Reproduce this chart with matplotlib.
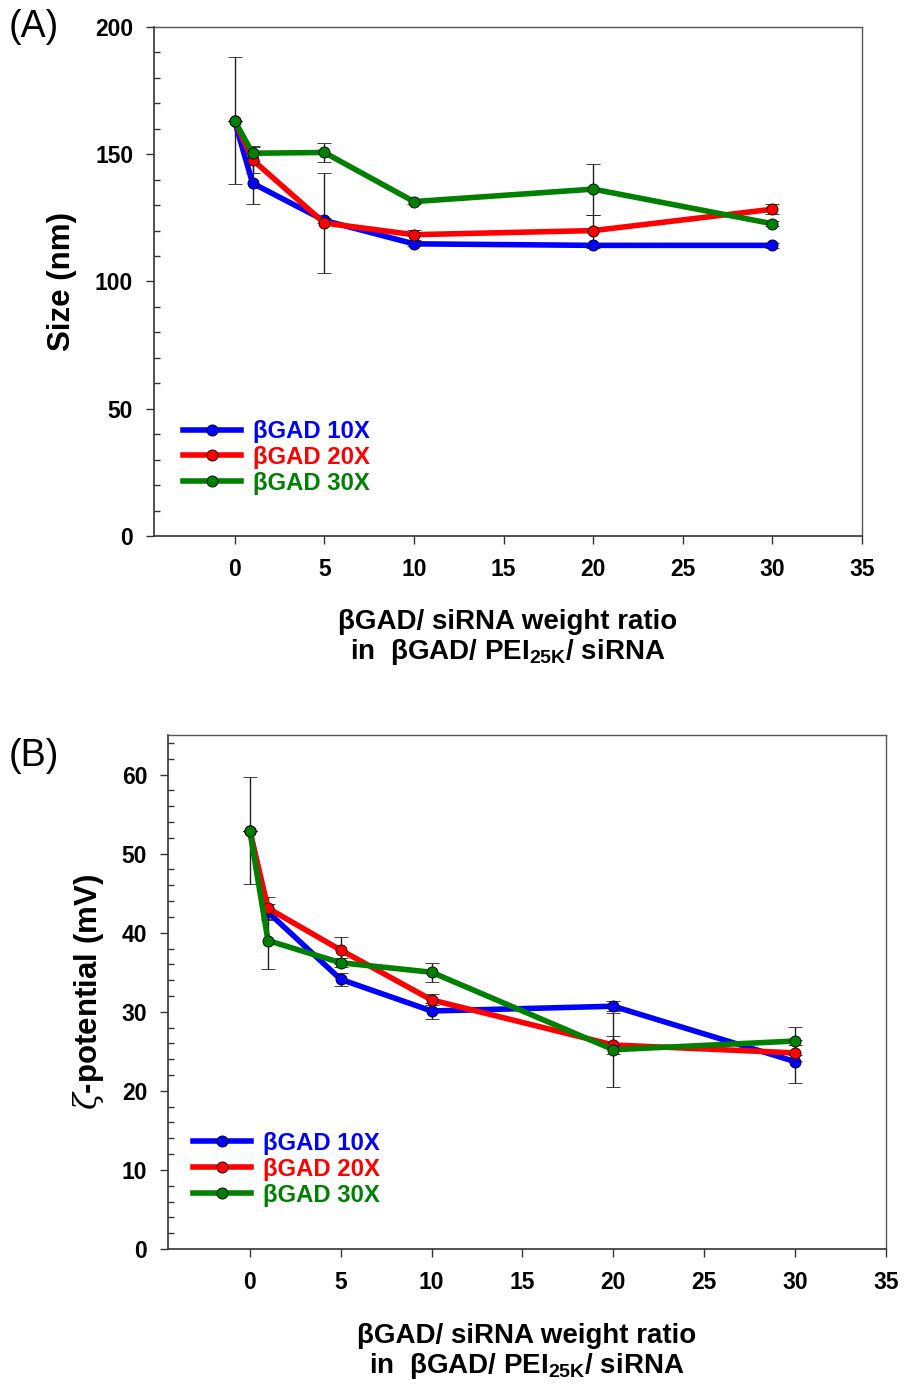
import matplotlib
matplotlib.use("Agg")
import matplotlib.pyplot as plt
from matplotlib.ticker import MultipleLocator

plt.rcParams['font.family'] = ['Liberation Sans', 'DejaVu Sans']
plt.rcParams['mathtext.fontset'] = 'custom'
plt.rcParams['mathtext.rm'] = 'Liberation Sans:bold'
plt.rcParams['mathtext.bf'] = 'Liberation Sans:bold'
plt.rcParams['mathtext.it'] = 'DejaVu Serif:italic'
plt.rcParams['mathtext.default'] = 'bf'

# ---- data ----
ratio = [0, 1, 5, 10, 20, 30]
series_labels = ["βGAD 10X", "βGAD 20X", "βGAD 30X"]
series_colors = ["#0000FF", "#FF0000", "#008000"]

size_10x = [163.0, 138.6, 124.0, 114.8, 114.2, 114.2]
size_10x_err = [0, 8.0, 1.0, 1.0, 1.0, 1.0]
size_20x = [163.0, 147.8, 123.0, 118.4, 120.0, 128.4]
size_20x_err = [0, 5.0, 19.5, 2.0, 6.0, 2.0]
size_30x = [163.2, 150.4, 150.7, 131.4, 136.3, 122.7]
size_30x_err = [25.0, 3.0, 3.8, 1.0, 10.0, 1.0]

zeta_10x = [52.9, 42.6, 34.1, 30.1, 30.7, 23.7]
zeta_10x_err = [0, 1.0, 0.8, 1.0, 0.6, 2.7]
zeta_20x = [52.9, 43.1, 37.8, 31.5, 25.8, 24.8]
zeta_20x_err = [0, 1.4, 1.7, 0.7, 1.1, 1.0]
zeta_30x = [52.9, 39.0, 36.2, 35.0, 25.2, 26.3]
zeta_30x_err = [6.8, 3.6, 0.6, 1.2, 4.7, 1.8]

xticks = [0, 5, 10, 15, 20, 25, 30, 35]
xlabel_text = "βGAD/ siRNA weight ratio\nin  βGAD/ PEI$_{25K}$/ siRNA"

W, H = 905, 1391
fig = plt.figure(figsize=(W / 100, H / 100), dpi=100)


def frac(l, r, t, b):
    return [l / W, 1 - b / H, (r - l) / W, (b - t) / H]


def draw_panel(ax, ys, errs, ylim, ymajor, yminor, ylabel, ylabel_x,
               xlabel_y, leg_anchor):
    for y, e, c, lab in zip(ys, errs, series_colors, series_labels):
        ax.errorbar(ratio, y, yerr=e, color=c, lw=4.0, marker='o', ms=8.0,
                    mfc=c, mec='black', mew=0.6, ecolor='#222222',
                    elinewidth=1.0, capsize=5, capthick=1.0, label=lab)
    ax.set_xlim(-4.5, 35)
    ax.set_ylim(*ylim)
    ax.set_xticks(xticks)
    ax.yaxis.set_major_locator(MultipleLocator(ymajor))
    ax.yaxis.set_minor_locator(MultipleLocator(yminor))
    ax.tick_params(axis='both', which='major', direction='out', length=5.5,
                   width=1, labelsize=16.5, color='#333333')
    ax.tick_params(axis='x', which='major', pad=10)
    ax.tick_params(axis='y', which='major', pad=9.5)
    ax.tick_params(axis='y', which='minor', direction='in', length=4.5,
                   width=1, color='#333333')
    for lab in ax.get_xticklabels() + ax.get_yticklabels():
        lab.set_fontweight('bold')
    for s in ['left', 'bottom']:
        ax.spines[s].set_color('#333333')
        ax.spines[s].set_linewidth(1.2)
    for s in ['top', 'right']:
        ax.spines[s].set_color('#555555')
        ax.spines[s].set_linewidth(1.0)
    ax.text(ylabel_x, 0.5, ylabel, transform=ax.transAxes, rotation=90,
            ha='center', va='center', fontsize=22.5, fontweight='bold')
    ax.text(0.5, xlabel_y, xlabel_text, transform=ax.transAxes, ha='center',
            va='center', fontsize=20, fontweight='bold', linespacing=1.12,
            multialignment='center')
    handles, labels = ax.get_legend_handles_labels()
    handles = [h[0] for h in handles]
    ax.legend(handles, labels, loc='upper left', bbox_to_anchor=leg_anchor,
              frameon=False, handlelength=2.43, handletextpad=0.49,
              labelspacing=0.12, borderpad=0, borderaxespad=0, numpoints=1,
              labelcolor='linecolor', prop={'weight': 'bold', 'size': 17.2})


# panel A: axes box 154..862 x, 27..536 y (pixels)
axA = fig.add_axes(frac(154, 862, 27, 536))
draw_panel(axA, [size_10x, size_20x, size_30x],
           [size_10x_err, size_20x_err, size_30x_err],
           (0, 200), 50, 10, "Size (nm)", (61.7 - 154) / 708,
           -(638 - 536) / 509, (0.0414, 0.228))

# panel B: axes box 168..886 x, 735..1249 y (pixels)
axB = fig.add_axes(frac(168, 886, 735, 1249))
draw_panel(axB, [zeta_10x, zeta_20x, zeta_30x],
           [zeta_10x_err, zeta_20x_err, zeta_30x_err],
           (0, 65), 10, 2, "$\\mathit{\\zeta}$-potential (mV)", (88 - 168) / 718,
           -(1352 - 1249) / 514, (0.0352, 0.228))

fig.text(9 / W, 1 - 27 / H, "(A)", fontsize=27, ha='left', va='center')
fig.text(9 / W, 1 - 756 / H, "(B)", fontsize=27, ha='left', va='center')

fig.savefig("out.png", dpi=100)
